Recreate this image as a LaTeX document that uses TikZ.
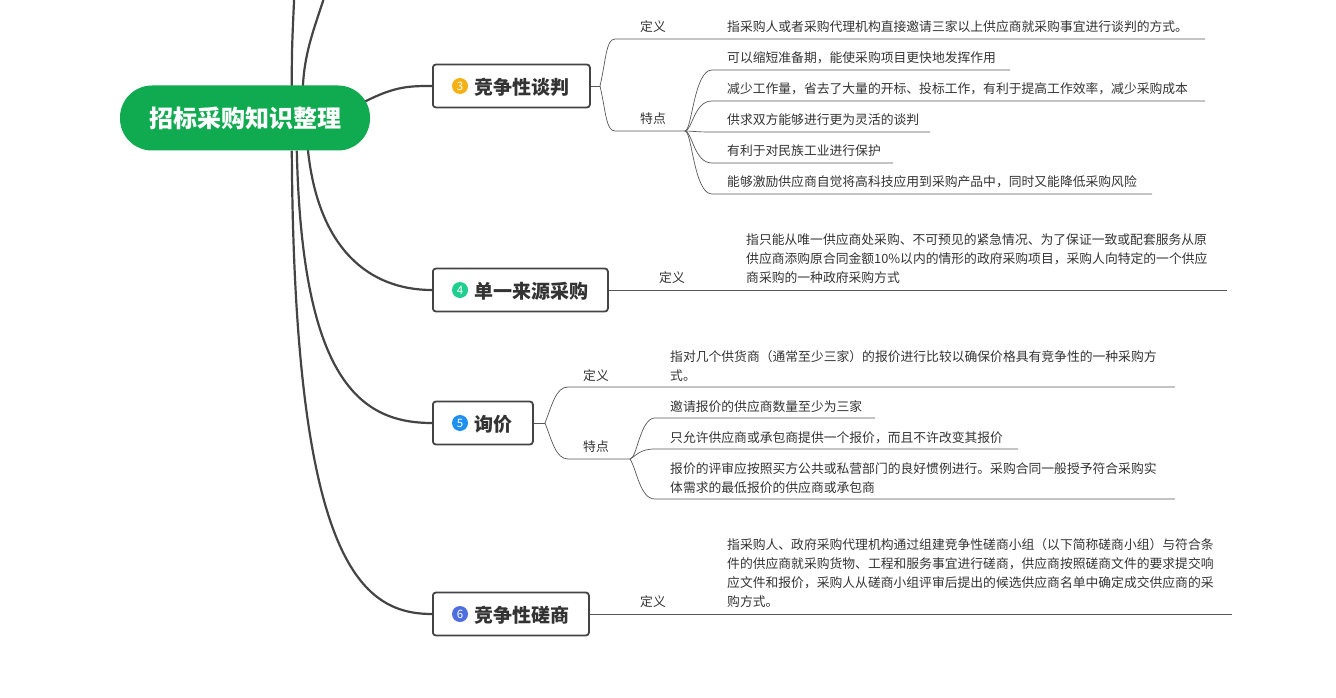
\documentclass[tikz,border=0pt]{standalone}
\usepackage{fontspec}
\setmainfont{Noto Sans CJK SC}
\usetikzlibrary{backgrounds}
\definecolor{rootg}{HTML}{10AA50}
\definecolor{txt}{HTML}{333333}
\definecolor{bord}{HTML}{444444}
\tikzset{
  topic/.style={draw=bord,line width=1.8pt,rounded corners=3pt,fill=white,minimum height=43pt,anchor=west,inner xsep=0pt,font=\fontsize{19}{22}\selectfont\bfseries,text=txt},
  badge/.style={circle,inner sep=0pt,minimum size=16pt,text=white,font=\fontsize{11.5}{11.5}\selectfont},
  lbl/.style={anchor=west,inner sep=0pt,font=\fontsize{12.8}{19}\selectfont,text=txt,align=left},
  thin/.style={draw=bord!90,line width=0.7pt},
  main/.style={draw=bord,line width=2.2pt}
}
\begin{document}
\begin{tikzpicture}[x=1pt,y=-1pt]
\useasboundingbox (0,0) rectangle (1336,698);
\node[fill=rootg,rounded corners=32pt,minimum width=250pt,minimum height=65pt,text=white,font=\fontsize{24}{28}\selectfont\bfseries] (root) at (245,118) {招标采购知识整理};

% topic nodes
\node[topic,minimum width=157pt] (t3) at (432,86) {};
\node[badge,fill={rgb,255:red,245;green,176;blue,20}] (b3) at (460,86) {3};
\node[anchor=west,inner sep=0pt,font=\fontsize{19}{22}\selectfont\bfseries,text=txt] (l3) at (474,87) {竞争性谈判};
\node[topic,minimum width=175pt] (t4) at (432,290) {};
\node[badge,fill={rgb,255:red,30;green,207;blue,143}] (b4) at (460,290) {4};
\node[anchor=west,inner sep=0pt,font=\fontsize{19}{22}\selectfont\bfseries,text=txt] (l4) at (474,291) {单一来源采购};
\node[topic,minimum width=100pt] (t5) at (432,423) {};
\node[badge,fill={rgb,255:red,30;green,144;blue,240}] (b5) at (460,423) {5};
\node[anchor=west,inner sep=0pt,font=\fontsize{19}{22}\selectfont\bfseries,text=txt] (l5) at (474,424) {询价};
\node[topic,minimum width=156pt] (t6) at (432,614) {};
\node[badge,fill={rgb,255:red,79;green,111;blue,224}] (b6) at (460,614) {6};
\node[anchor=west,inner sep=0pt,font=\fontsize{19}{22}\selectfont\bfseries,text=txt] (l6) at (474,615) {竞争性磋商};

\begin{scope}[on background layer]
\coordinate (u1) at (296,-40); \coordinate (u2) at (334,-40);
\draw[main] (root.north west) ++(172,2) .. controls +(0,-40) .. (u1);
\draw[main] (root.north west) ++(183,3) .. controls +(2,-50) and +(-10,50) .. (u2);
\draw[main] (root.east) ++(-6,-16) .. controls (395,86) and (410,86) .. (t3.west);
\draw[main] (root.south west) ++(188,-2) .. controls (318,250) and (370,290) .. (t4.west);
\draw[main] (root.south west) ++(177,0) .. controls (302,380) and (360,423) .. (t5.west);
\draw[main] (root.south west) ++(172,0) .. controls (294,560) and (360,614) .. (t6.west);
\end{scope}

% ---- topic 3
\coordinate (s3) at (600,86);
\draw[thin] (t3.east) -- (s3);
\coordinate (d3a) at (615,39); \coordinate (d3b) at (1205,39);
\coordinate (f3a) at (615,131); \coordinate (f3b) at (685,131);
\draw[thin] (s3) .. controls (606,60) and (606,39) .. (d3a) -- (d3b);
\draw[thin] (s3) .. controls (606,112) and (606,131) .. (f3a) -- (f3b);
\node[lbl] (d3l) at (640,27) {定义};
\node[lbl] (f3l) at (640,119) {特点};
\node[lbl] (d3t) at (727,27) {指采购人或者采购代理机构直接邀请三家以上供应商就采购事宜进行谈判的方式。};
\foreach \y/\e/\t [count=\i] in {70/1010/可以缩短准备期，能使采购项目更快地发挥作用,
  101/1205/减少工作量，省去了大量的开标、投标工作，有利于提高工作效率，减少采购成本,
  132/930/供求双方能够进行更为灵活的谈判,
  163/893/有利于对民族工业进行保护,
  194/1152/能够激励供应商自觉将高科技应用到采购产品中，同时又能降低采购风险}{
  \coordinate (k\i) at (712,\y); \coordinate (e\i) at (\e,\y);
  \draw[thin] (f3b) .. controls (692,131) and (694,\y) .. (k\i) -- (e\i);
  \node[lbl] (i\i) at (727,\y-12) {\t};
}

% ---- topic 4
\coordinate (e4) at (1227,290);
\draw[thin] (t4.east) -- (e4);
\node[lbl] (d4l) at (659,278) {定义};
\node[lbl] (d4t) at (746,259) {指只能从唯一供应商处采购、不可预见的紧急情况、为了保证一致或配套服务从原\\供应商添购原合同金额10\%以内的情形的政府采购项目，采购人向特定的一个供应\\商采购的一种政府采购方式};

% ---- topic 5
\coordinate (s5) at (545,423);
\draw[thin] (t5.east) -- (s5);
\coordinate (d5a) at (568,387); \coordinate (d5b) at (1175,387);
\coordinate (f5a) at (568,459); \coordinate (f5b) at (630,459);
\draw[thin] (s5) .. controls (552,405) and (556,387) .. (d5a) -- (d5b);
\draw[thin] (s5) .. controls (552,441) and (556,459) .. (f5a) -- (f5b);
\node[lbl] (d5l) at (583,376) {定义};
\node[lbl] (f5l) at (583,447) {特点};
\node[lbl] (d5t) at (670,366) {指对几个供货商（通常至少三家）的报价进行比较以确保价格具有竞争性的一种采购方\\式。};
\coordinate (m1) at (655,418); \coordinate (n1) at (875,418);
\coordinate (m2) at (655,449); \coordinate (n2) at (1018,449);
\coordinate (m3) at (655,499); \coordinate (n3) at (1175,499);
\draw[thin] (f5b) .. controls (637,459) and (640,418) .. (m1) -- (n1);
\draw[thin] (f5b) .. controls (637,455) and (640,449) .. (m2) -- (n2);
\draw[thin] (f5b) .. controls (637,470) and (640,499) .. (m3) -- (n3);
\node[lbl] (j1) at (670,407) {邀请报价的供应商数量至少为三家};
\node[lbl] (j2) at (670,438) {只允许供应商或承包商提供一个报价，而且不许改变其报价};
\node[lbl] (j3) at (670,478) {报价的评审应按照买方公共或私营部门的良好惯例进行。采购合同一般授予符合采购实\\体需求的最低报价的供应商或承包商};

% ---- topic 6
\coordinate (e6) at (1232,614);
\draw[thin] (t6.east) -- (e6);
\node[lbl] (d6l) at (640,602) {定义};
\node[lbl] (d6t) at (727,573) {指采购人、政府采购代理机构通过组建竞争性磋商小组（以下简称磋商小组）与符合条\\件的供应商就采购货物、工程和服务事宜进行磋商，供应商按照磋商文件的要求提交响\\应文件和报价，采购人从磋商小组评审后提出的候选供应商名单中确定成交供应商的采\\购方式。};
\end{tikzpicture}
\end{document}
